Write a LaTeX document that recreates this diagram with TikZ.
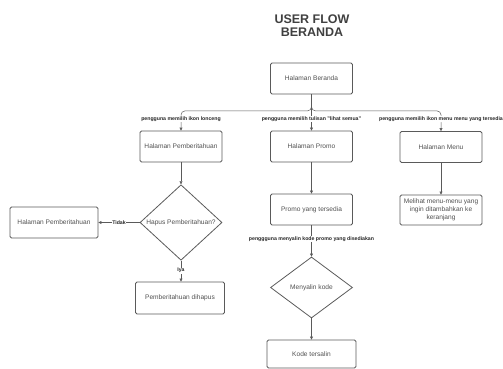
\documentclass[tikz,border=0pt]{standalone}
\usepackage{fontspec}
\setmainfont{Liberation Sans}
\definecolor{LineGray}{RGB}{90, 90, 90}
\definecolor{TextGray}{RGB}{80, 80, 80}
\definecolor{TitleGray}{RGB}{64, 64, 64}
\usetikzlibrary{arrows.meta, positioning, shapes, calc}

\begin{document}
\begin{tikzpicture}[x=1pt, y=-1pt,
    box/.style={draw=LineGray, line width=0.8pt, rounded corners=1.5pt, minimum width=82pt, minimum height=31pt,
        inner sep=1pt, align=center, text=TextGray, font=\fontsize{6.6}{8}\selectfont},
    decision/.style={diamond, draw=LineGray, line width=0.8pt, minimum width=82pt, minimum height=66pt,
        inner sep=0pt, text=TextGray, font=\fontsize{6.6}{8}\selectfont},
    flow/.style={draw=LineGray, line width=0.5pt, -{Triangle[length=3pt, width=3pt]}},
    lbl/.style={fill=white, inner sep=0.6pt, text=black!85, font=\fontsize{5.2}{6}\selectfont\bfseries}]
                \useasboundingbox (0,0) rectangle (503,369);

                % Title
                \node[align=center, text=TitleGray, font=\fontsize{12.5}{13}\selectfont\bfseries] (title) at (312,26) {USER FLOW\\BERANDA};

                % Boxes
                \node[box] (beranda) at (311.5,78.5) {Halaman Beranda};
                \node[box] (notif) at (181,146.5) {Halaman Pemberitahuan};
                \node[box] (promo) at (311.5,146.5) {Halaman Promo};
                \node[box] (menu) at (441,147) {Halaman Menu};
                \node[decision] (hapus) at (181,222.5) {Hapus Pemberitahuan?};
                \node[box, minimum width=88pt] (notifkiri) at (54,222.5) {Halaman Pemberitahuan};
                \node[box, minimum width=89pt, minimum height=32pt] (dihapus) at (180,298) {Pemberitahuan dihapus};
                \node[box] (tersedia) at (311.5,209.5) {Promo yang tersedia};
                \node[decision, minimum height=61pt] (salin) at (311.5,287.5) {Menyalin kode};
                \node[box, minimum width=89pt, minimum height=28pt] (tersalin) at (311.5,354) {Kode tersalin};
                \node[box, minimum height=30pt] (melihat) at (441,210) {Melihat menu-menu yang\\ingin ditambahkan ke\\keranjang};

                % Branches from Beranda
                \draw[flow, rounded corners=4pt] (beranda.south) -- ++(0,16.5) -| (notif.north)
                    node[lbl, pos=0.7] {pengguna memilih ikon lonceng};
                \draw[flow] (beranda.south) -- (promo.north)
                    node[lbl, pos=0.68] {pengguna memilih tulisan "lihat semua"};
                \draw[flow, rounded corners=4pt] (beranda.south) -- ++(0,16.5) -| (menu.north)
                    node[lbl, pos=0.7] {pengguna memilih ikon menu menu yang tersedia};

                % Notifikasi
                \draw[flow] (notif) -- (hapus);
                \draw[flow] (hapus.west) -- (notifkiri.east) node[lbl, pos=0.5] {Tidak};
                \draw[flow] (hapus.south) -- (hapus.south |- dihapus.north) node[lbl, pos=0.48] {Iya};

                % Promo
                \draw[flow] (promo) -- (tersedia);
                \draw[flow] (tersedia) -- (salin)
                    node[lbl, pos=0.44] {penggguna menyalin kode promo yang disediakan};
                \draw[flow] (salin) -- (tersalin);

                % Menu
                \draw[flow] (menu) -- (melihat);
            \end{tikzpicture}
\end{document}
